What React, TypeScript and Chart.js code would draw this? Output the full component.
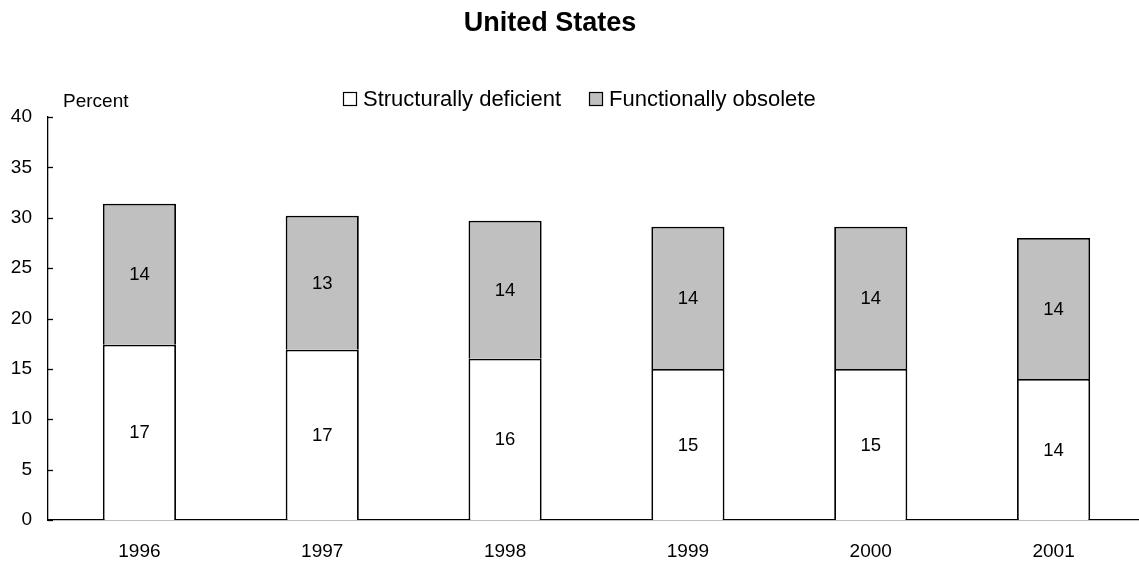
import React, { useEffect, useRef } from "react";
import { Chart, registerables } from "chart.js";

Chart.register(...registerables);

const categories = ["1996", "1997", "1998", "1999", "2000", "2001"];
const structurallyDeficient = [17.4, 16.9, 16.0, 15.0, 15.0, 14.0];
const functionallyObsolete = [14.0, 13.3, 13.7, 14.1, 14.1, 14.0];
const seriesNames = ["Structurally deficient", "Functionally obsolete"];
const seriesColors = ["#FFFFFF", "#C0C0C0"];
const titleText = "United States";
const yAxisLabel = "Percent";

const FONT = "Arial, 'Liberation Sans', sans-serif";

const overlayPlugin = {
  id: "overlay",
  afterDraw(chart: any) {
    const ctx = chart.ctx as CanvasRenderingContext2D;
    const area = chart.chartArea;
    const yScale = chart.scales.y;
    ctx.save();
    // inner tick marks on y axis
    ctx.strokeStyle = "#000";
    ctx.lineWidth = 1.3;
    yScale.ticks.forEach((t: any) => {
      const y = Math.round(yScale.getPixelForValue(t.value)) + 0.5;
      ctx.beginPath();
      ctx.moveTo(area.left, y);
      ctx.lineTo(area.left + 5, y);
      ctx.stroke();
    });
    // title
    ctx.fillStyle = "#000";
    ctx.textAlign = "center";
    ctx.textBaseline = "middle";
    ctx.font = `bold 27px ${FONT}`;
    ctx.fillText(titleText, 550, 24);
    // Percent label
    ctx.font = `19px ${FONT}`;
    ctx.textAlign = "left";
    ctx.fillText(yAxisLabel, 63, 102);
    // legend
    ctx.font = `22px ${FONT}`;
    const items = [
      { x: 343, text: seriesNames[0], color: seriesColors[0] },
      { x: 589, text: seriesNames[1], color: seriesColors[1] },
    ];
    items.forEach((it) => {
      ctx.fillStyle = it.color;
      ctx.fillRect(it.x + 0.5, 92.5, 13, 13);
      ctx.strokeStyle = "#000";
      ctx.lineWidth = 1.2;
      ctx.strokeRect(it.x + 0.5, 92.5, 13, 13);
      ctx.fillStyle = "#000";
      ctx.fillText(it.text, it.x + 20, 100);
    });
    // data labels
    ctx.font = `18.5px ${FONT}`;
    ctx.textAlign = "center";
    chart.data.datasets.forEach((ds: any, di: number) => {
      const meta = chart.getDatasetMeta(di);
      meta.data.forEach((bar: any, i: number) => {
        const yc = (bar.y + bar.base) / 2;
        ctx.fillText(String(Math.round(ds.data[i])), bar.x, yc + 1);
      });
    });
    ctx.restore();
  },
};

export default function App() {
  const ref = useRef<HTMLCanvasElement>(null);
  useEffect(() => {
    if (!ref.current) return;
    const chart = new Chart(ref.current, {
      type: "bar",
      data: {
        labels: categories,
        datasets: [
          {
            label: seriesNames[0],
            data: structurallyDeficient,
            backgroundColor: seriesColors[0],
            borderColor: "#000",
            borderWidth: 1.8,
            borderSkipped: "bottom",
          },
          {
            label: seriesNames[1],
            data: functionallyObsolete,
            backgroundColor: seriesColors[1],
            borderColor: "#000",
            borderWidth: 1.8,
            borderSkipped: "bottom",
          },
        ],
      },
      options: {
        animation: false,
        responsive: false,
        maintainAspectRatio: false,
        layout: { padding: { top: 117, right: 1, left: 0, bottom: 0 } },
        plugins: {
          legend: { display: false },
          title: { display: false },
          tooltip: { enabled: false },
        },
        datasets: { bar: { categoryPercentage: 0.4, barPercentage: 1 } },
        scales: {
          x: {
            stacked: true,
            grid: { display: false },
            border: { display: true, color: "#000", width: 1.3 },
            ticks: { color: "#000", font: { family: FONT, size: 19 }, padding: 12 },
            afterFit: (s: any) => {
              s.height = 41;
            },
          },
          y: {
            stacked: true,
            min: 0,
            max: 40,
            grid: { display: false },
            border: { display: true, color: "#000", width: 1.3 },
            ticks: { stepSize: 5, color: "#000", font: { family: FONT, size: 19 }, padding: 8 },
            afterFit: (s: any) => {
              s.width = 48;
            },
          },
        },
      },
      plugins: [overlayPlugin],
    } as any);
    return () => chart.destroy();
  }, []);
  return (
    <div style={{ position: "fixed", left: 0, top: 0, width: 1139, height: 561, overflow: "hidden", background: "#fff" }}>
      <canvas ref={ref} width={1146} height={561} style={{ width: 1146, height: 561, display: "block" }} />
    </div>
  );
}
